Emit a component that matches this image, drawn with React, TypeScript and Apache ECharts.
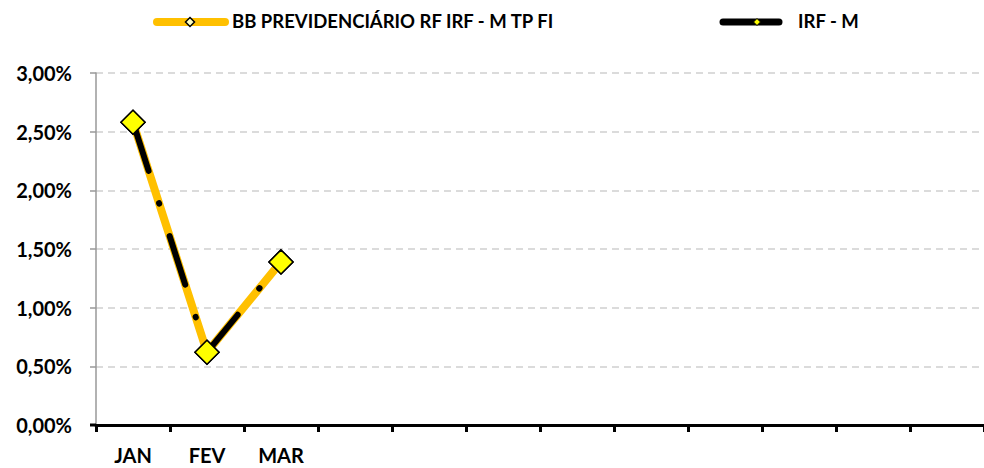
import React, { useEffect, useRef } from "react";
import * as echarts from "echarts";

const categories: string[] = ["JAN", "FEV", "MAR", "", "", "", "", "", "", "", "", ""];
const fundValues: (number | null)[] = [2.58, 0.62, 1.39, null, null, null, null, null, null, null, null, null];
const benchValues: (number | null)[] = [2.58, 0.62, 1.39, null, null, null, null, null, null, null, null, null];
const seriesNames: string[] = ["BB PREVIDENCIÁRIO RF IRF - M TP FI", "IRF - M"];

const FONT = "Lato";
const ORANGE = "#FFC000";
const YELLOW = "#FFFF00";

export default function App() {
  const ref = useRef<HTMLDivElement>(null);
  useEffect(() => {
    if (!ref.current) return;
    const chart = echarts.init(ref.current, null, { renderer: "svg" });
    const diamond = (cx: number, cy: number, r: number, fill: string, lw: number) => ({
      type: "polygon",
      shape: { points: [[cx, cy - r], [cx + r, cy], [cx, cy + r], [cx - r, cy]] },
      style: { fill, stroke: "#000", lineWidth: lw },
      z: 10,
    });
    chart.setOption({
      animation: false,
      grid: { left: 96, right: 0, top: 73, bottom: 43, containLabel: false },
      graphic: [
        { type: "line", shape: { x1: 157, y1: 22, x2: 225, y2: 22 }, style: { stroke: ORANGE, lineWidth: 8, lineCap: "round" }, z: 9 },
        diamond(190, 22, 4.5, "#FFFFC0", 1.5),
        { type: "text", x: 232, y: 21, style: { text: seriesNames[0], font: `bold 18.5px ${FONT}`, fill: "#000", verticalAlign: "middle" } },
        { type: "line", shape: { x1: 723, y1: 22, x2: 779, y2: 22 }, style: { stroke: "#000", lineWidth: 7, lineCap: "round" }, z: 9 },
        diamond(757, 22, 3.5, YELLOW, 1),
        { type: "text", x: 798, y: 21, style: { text: seriesNames[1], font: `bold 18.5px ${FONT}`, fill: "#000", verticalAlign: "middle" } },
        { type: "line", shape: { x1: 90, y1: 425, x2: 96, y2: 425 }, style: { stroke: "#000", lineWidth: 3 }, z: 9 },
      ],
      xAxis: {
        type: "category",
        data: categories,
        boundaryGap: true,
        axisLine: { lineStyle: { color: "#000", width: 3 } },
        axisTick: { show: true, length: 7, lineStyle: { color: "#000", width: 3 } },
        axisLabel: { color: "#000", fontFamily: FONT, fontWeight: "bold", fontSize: 20, margin: 20, interval: 0 },
        splitLine: { show: false },
      },
      yAxis: {
        type: "value",
        min: 0,
        max: 3,
        interval: 0.5,
        axisLine: { show: true, lineStyle: { color: "#999", width: 1.5 } },
        axisTick: { show: true, length: 6, lineStyle: { color: "#999", width: 1.5 } },
        axisLabel: {
          color: "#000",
          fontFamily: FONT,
          fontWeight: "bold",
          fontSize: 20,
          margin: 24,
          formatter: (v: number) => v.toFixed(2).replace(".", ",") + "%",
        },
        splitLine: { show: true, lineStyle: { color: "#d0d0d0", width: 1.5, type: [7, 5] } },
      },
      series: [
        {
          name: seriesNames[0],
          type: "line",
          data: fundValues,
          symbol: "diamond",
          symbolSize: 24,
          itemStyle: { color: YELLOW, borderColor: "#000", borderWidth: 1.5 },
          lineStyle: { color: ORANGE, width: 8 },
          z: 2,
        },
        {
          name: seriesNames[1],
          type: "line",
          data: benchValues,
          symbol: "diamond",
          symbolSize: 24,
          itemStyle: { color: YELLOW, borderColor: "#000", borderWidth: 1.5 },
          lineStyle: { color: "#000", width: 6, type: [51, 34, 0.5, 34], cap: "round" },
          z: 3,
        },
      ],
    });
    return () => chart.dispose();
  }, []);
  return <div ref={ref} style={{ width: 984, height: 468, position: "absolute", left: 0, top: 0 }} />;
}
